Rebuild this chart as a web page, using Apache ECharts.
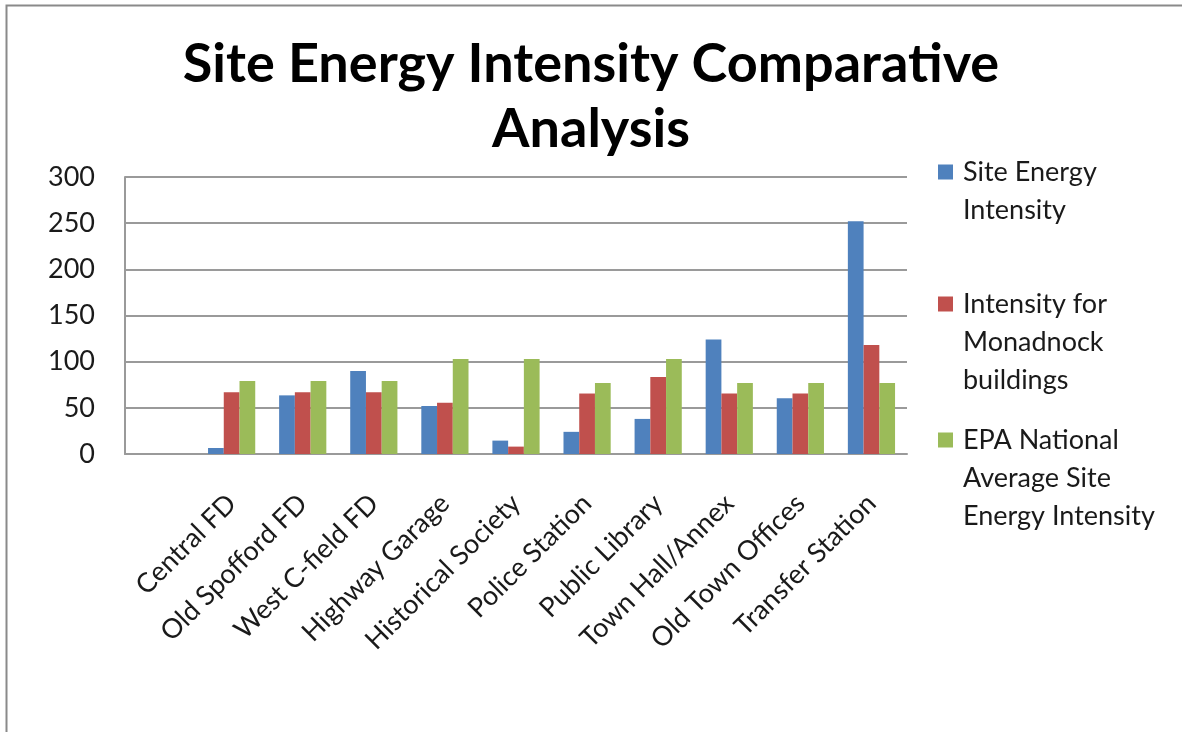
<!DOCTYPE html>
<html>
<head>
<meta charset="utf-8">
<title>Site Energy Intensity Comparative Analysis</title>
<script src="https://cdn.jsdelivr.net/npm/echarts@6/dist/echarts.min.js"></script>
<style>
  html, body { margin: 0; padding: 0; background: #ffffff; }
  #chart { width: 1182px; height: 732px; }
</style>
</head>
<body>
<div id="chart"></div>
<script>
// Building categories (the workbook's first row is an unlabeled, empty slot)
const categories = ['', 'Central FD', 'Old Spofford FD', 'West C-field FD', 'Highway Garage',
  'Historical Society', 'Police Station', 'Public Library', 'Town Hall/Annex',
  'Old Town Offices', 'Transfer Station'];

// Site energy intensity per building
const siteEnergy = [null, 6.5, 63.5, 90, 52, 14.5, 24, 38, 124, 60.5, 252];
// Regional benchmark for Monadnock buildings
const monadnock = [null, 67, 67, 67, 55.5, 8, 65.5, 83.5, 65.5, 65.5, 118];
// EPA national average site energy intensity
const epaAverage = [null, 79, 79, 79, 103, 103, 77, 103, 77, 77, 77];

const seriesNames = [
  'Site Energy\nIntensity',
  'Intensity for\nMonadnock\nbuildings',
  'EPA National\nAverage Site\nEnergy Intensity'
];
const yTicks = { min: 0, max: 300, interval: 50 };

const colors = ['#4f81bd', '#c0504d', '#9bbb59'];
const font = 'Lato, "Open Sans", sans-serif';
const gridGray = '#9a9a9a';
const labelSize = 27;

// One legend per series so each wrapped entry sits where it should.
// Blank lines are prepended so the first text line lines up with the swatch.
const legendLineHeight = 38;
function legendFor(i, top) {
  return {
    data: [seriesNames[i]],
    left: 938,
    top: top,
    orient: 'vertical',
    padding: 0,
    icon: 'rect',
    itemWidth: 15,
    itemHeight: 15,
    selectedMode: false,
    formatter: function (name) {
      const extra = name.split('\n').length - 1;
      return '\n'.repeat(extra) + name;
    },
    textStyle: {
      fontFamily: font,
      fontSize: labelSize,
      color: '#1a1a1a',
      lineHeight: legendLineHeight,
      padding: [0, 0, 0, 5]
    }
  };
}

const chart = echarts.init(document.getElementById('chart'), null, { renderer: 'canvas' });

chart.setOption({
  animation: false,
  backgroundColor: '#ffffff',
  color: colors,
  title: {
    text: 'Site Energy Intensity Comparative\nAnalysis',
    left: 'center',
    top: 27,
    textStyle: {
      fontFamily: font,
      fontWeight: 'bold',
      fontSize: 54,
      lineHeight: 65,
      color: '#000000'
    }
  },
  legend: [legendFor(0, 115), legendFor(1, 209), legendFor(2, 345)],
  grid: { left: 125, right: 275, top: 177, bottom: 278, containLabel: false },
  xAxis: {
    type: 'category',
    data: categories,
    axisLine: { show: true, lineStyle: { color: gridGray, width: 2 } },
    axisTick: { show: false },
    axisLabel: {
      interval: 0,
      rotate: 45,
      margin: 45,
      fontFamily: font,
      fontSize: labelSize,
      color: '#1a1a1a'
    }
  },
  yAxis: {
    type: 'value',
    min: yTicks.min,
    max: yTicks.max,
    interval: yTicks.interval,
    axisLine: { show: true, lineStyle: { color: gridGray, width: 2 } },
    axisTick: { show: false },
    axisLabel: {
      margin: 30,
      fontFamily: font,
      fontSize: labelSize,
      color: '#1a1a1a'
    },
    splitLine: { show: true, lineStyle: { color: gridGray, width: 2 } }
  },
  series: [
    { name: seriesNames[0], type: 'bar', data: siteEnergy, barGap: '0%', barCategoryGap: '33.6%' },
    { name: seriesNames[1], type: 'bar', data: monadnock, barGap: '0%', barCategoryGap: '33.6%' },
    { name: seriesNames[2], type: 'bar', data: epaAverage, barGap: '0%', barCategoryGap: '33.6%' }
  ],
  graphic: [{
    type: 'rect',
    left: 4,
    top: 3,
    shape: { width: 1200, height: 800 },
    style: { fill: 'none', stroke: '#8a8a8a', lineWidth: 2 },
    silent: true,
    z: -1
  }]
});
</script>
</body>
</html>
